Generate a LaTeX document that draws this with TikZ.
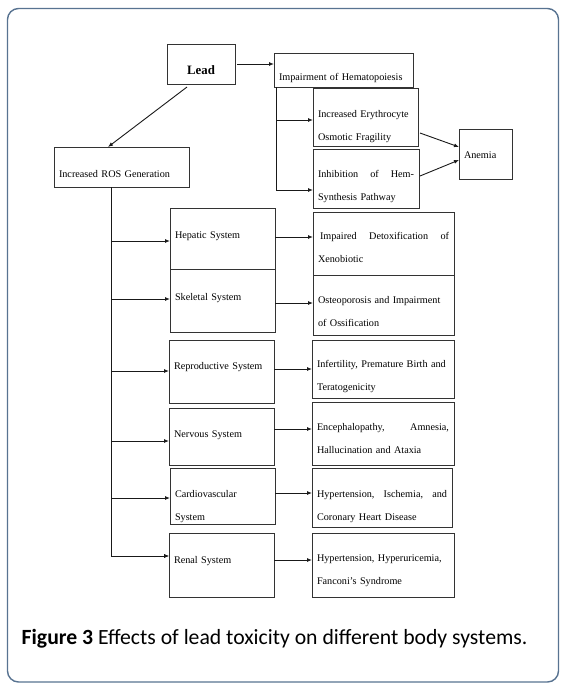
\documentclass[tikz,border=0pt]{standalone}
\usepackage{fontspec}
\setmainfont{Liberation Serif}
\newfontfamily\capfont{Carlito}
\usetikzlibrary{arrows.meta}
\definecolor{frameblue}{RGB}{88,115,145}

\begin{document}
\begin{tikzpicture}[x=1pt,y=-1pt,>={Latex[length=5pt,width=4pt]},
  box/.style={draw=black!80,line width=0.9pt,anchor=north west,outer sep=0pt,
    inner xsep=5pt,inner ysep=0pt,align=left,font=\fontsize{10.2}{23}\selectfont},
  dims/.style n args={3}{text width=#1pt,text depth=#2pt,text height=#3pt},
  arr/.style={->,line width=0.9pt,black!90}]
  \useasboundingbox (0,0) rectangle (566,689);
  \draw[frameblue,line width=1.4pt,rounded corners=11pt] (7.5,8.5) rectangle (558.5,682);

  \node[box,dims={58}{10}{30},align=center,font=\fontsize{12.8}{15}\selectfont\bfseries] (lead) at (167,44) {Lead};
  \node[box,dims={129}{7}{27}] (hemato) at (274,53) {Impairment of Hematopoiesis};
  \node[box,dims={125}{10}{30}] (ros) at (54,147) {Increased ROS Generation};
  \node[box,dims={95}{29}{29}] (ery) at (313,88) {Increased Erythrocyte\\Osmotic Fragility};
  \node[box,dims={96}{31}{28}] (hem) at (313,149) {Inhibition\hfill of\hfill Hem-\\Synthesis Pathway};
  \node[box,dims={43}{21}{29}] (anemia) at (459,129) {Anemia};

  \node[box,dims={95}{31}{30}] (hepatic) at (170,208) {Hepatic System};
  \node[box,dims={95}{32}{31}] (skeletal) at (170,269) {Skeletal System};
  \node[box,dims={95}{34}{29}] (repro) at (169,340) {Reproductive System};
  \node[box,dims={95}{28}{29}] (nervous) at (169,408) {Nervous System};
  \node[box,dims={95}{27}{29}] (cardio) at (170,468) {Cardiovascular\\System};
  \node[box,dims={95}{34}{30}] (renal) at (169,533) {Renal System};

  \node[box,dims={131}{36}{27}] (detox) at (313,212) {\hspace{2pt}Impaired\hfill Detoxification\hfill of\\Xenobiotic};
  \node[box,dims={131}{32}{28}] (osteo) at (313,275) {Osteoporosis and Impairment\\of Ossification};
  \node[box,dims={132}{31}{27}] (infert) at (312,340) {Infertility, Premature Birth and\\Teratogenicity};
  \node[box,dims={132}{35}{28}] (enceph) at (312,402) {Encephalopathy,\hfill Amnesia,\\Hallucination and Ataxia};
  \node[box,dims={130}{30}{29}] (hyper) at (312,468) {Hypertension,\hfill Ischemia,\hfill and\\Coronary Heart Disease};
  \node[box,dims={132}{36}{28}] (fanconi) at (312,533) {Hypertension, Hyperuricemia,\\Fanconi’s Syndrome};

  \draw[arr] ([xshift=2pt]lead.east) -- (lead.east -| hemato.west);
  \draw[arr] ([xshift=-14pt,yshift=-3pt]lead.south) -- ([xshift=-13.5pt]ros.north);

  \coordinate (brk) at ([xshift=2pt]hemato.south west);
  \draw[arr] (brk) |- ([yshift=-11.5pt]hem.west);
  \draw[arr] ([yshift=-3pt]ery.west -| brk) -- ([yshift=-3pt]ery.west);
  \draw[arr] ([xshift=2pt,yshift=-16pt]ery.east) -- ([yshift=7pt]anemia.west);
  \draw[arr] ([xshift=1pt,yshift=2.5pt]hem.east) -- ([yshift=-6pt]anemia.west);

  \coordinate (trunk) at ([xshift=-10.5pt]ros.south);
  \draw[arr] (trunk) |- ([yshift=9pt]renal.west);
  \foreach \sys/\eff/\ia/\ib in {hepatic/detox/-2.5/1.5,skeletal/osteo/1.5/-2.5,
      repro/infert/0.5/2.5,nervous/enceph/-4.5/7.5,cardio/hyper/-2/3,renal/fanconi/9/5}{
    \draw[arr] ([yshift=\ia pt]\sys.west -| trunk) -- ([yshift=\ia pt]\sys.west);
    \draw[arr] ([yshift=\ib pt]\sys.east) -- ([yshift=\ib pt]\sys.east -| \eff.west);
  }

  \node[anchor=base west,inner sep=0pt,font=\capfont\fontsize{21.7}{24}\selectfont] (cap) at (21.5,644)
    {\textbf{Figure 3} Effects of lead toxicity on different body systems.};
\end{tikzpicture}
\end{document}
